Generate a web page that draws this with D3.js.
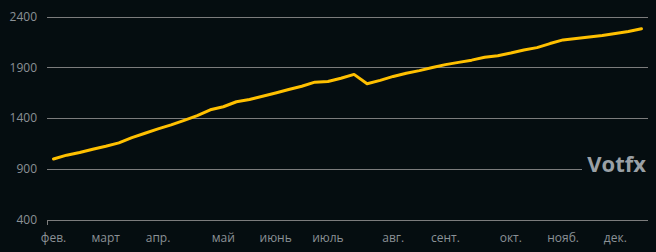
<!DOCTYPE html>
<html>
<head>
<meta charset="utf-8">
<script src="https://cdn.jsdelivr.net/npm/d3@7"></script>
<style>
  html, body { margin: 0; padding: 0; background: #050d10; }
  svg { display: block; }
  .axis text { font-family: "Open Sans", sans-serif; font-size: 12px; fill: #8b9196; }
</style>
</head>
<body>
<div id="chart"></div>
<script>
// weekly balance, feb - dec
var values = [999, 1037, 1064, 1096, 1125, 1158, 1209, 1253, 1295, 1335,
              1379, 1426, 1483, 1513, 1562, 1584, 1616, 1648, 1683, 1715,
              1755, 1762, 1793, 1831, 1739, 1772, 1811, 1843, 1868, 1898,
              1927, 1949, 1971, 1999, 2015, 2041, 2070, 2094, 2134, 2170,
              2183, 2198, 2213, 2233, 2253, 2280];
// month label shown at the first week of each month
var monthWeeks = [0, 4, 8, 13, 17, 21, 26, 30, 35, 39, 43];
var monthNames = ['фев.', 'март', 'апр.', 'май', 'июнь', 'июль', 'авг.', 'сент.', 'окт.', 'нояб.', 'дек.'];
var yTicks = [400, 900, 1400, 1900, 2400];

var width = 656, height = 252;
var margin = { top: 16.5, right: 8, bottom: 32, left: 47 };

var svg = d3.select('#chart').append('svg')
    .attr('width', width)
    .attr('height', height);

var x = d3.scaleBand()
    .domain(d3.range(values.length))
    .range([margin.left, width - margin.right]);

var y = d3.scaleLinear()
    .domain([400, 2400])
    .range([height - margin.bottom, margin.top]);

// horizontal grid
svg.append('g')
    .selectAll('line')
    .data(yTicks)
    .enter()
    .append('line')
      .attr('x1', margin.left)
      .attr('x2', width - margin.right)
      .attr('y1', function(d) { return Math.round(y(d)) + 0.5; })
      .attr('y2', function(d) { return Math.round(y(d)) + 0.5; })
      .attr('stroke', '#7c7c7c')
      .attr('stroke-width', 1);

// y labels
svg.append('g')
    .attr('class', 'axis')
    .selectAll('text')
    .data(yTicks)
    .enter()
    .append('text')
      .attr('x', margin.left - 10)
      .attr('y', function(d) { return y(d); })
      .attr('dy', '0.35em')
      .style('text-anchor', 'end')
      .text(function(d) { return d; });

// x axis: tick at left end + month labels
svg.append('line')
    .attr('x1', margin.left + 0.5)
    .attr('x2', margin.left + 0.5)
    .attr('y1', Math.round(y(400)))
    .attr('y2', Math.round(y(400)) + 5)
    .attr('stroke', '#7c7c7c');

svg.append('g')
    .attr('class', 'axis')
    .selectAll('text')
    .data(monthWeeks)
    .enter()
    .append('text')
      .attr('x', function(d) { return x(d) + x.bandwidth() / 2; })
      .attr('y', height - margin.bottom + 22)
      .style('text-anchor', 'middle')
      .text(function(d, i) { return monthNames[i]; });

// watermark with a box that hides the grid behind it
var mark = svg.append('g');
mark.append('rect')
    .attr('x', 582)
    .attr('y', 150)
    .attr('width', 70)
    .attr('height', 28)
    .attr('fill', '#050d10');
mark.append('text')
    .attr('x', 646)
    .attr('y', 172)
    .style('text-anchor', 'end')
    .style('font-family', '"Open Sans", sans-serif')
    .style('font-weight', 'bold')
    .style('font-size', '22px')
    .style('fill', '#9aa0a5')
    .text('Votfx');

var line = d3.line()
    .x(function(d, i) { return x(i) + x.bandwidth() / 2; })
    .y(function(d) { return y(d); });

svg.append('path')
    .datum(values)
    .attr('d', line)
    .attr('fill', 'none')
    .attr('stroke', '#ffc000')
    .attr('stroke-width', 3)
    .attr('stroke-linejoin', 'round')
    .attr('stroke-linecap', 'round');
</script>
</body>
</html>
